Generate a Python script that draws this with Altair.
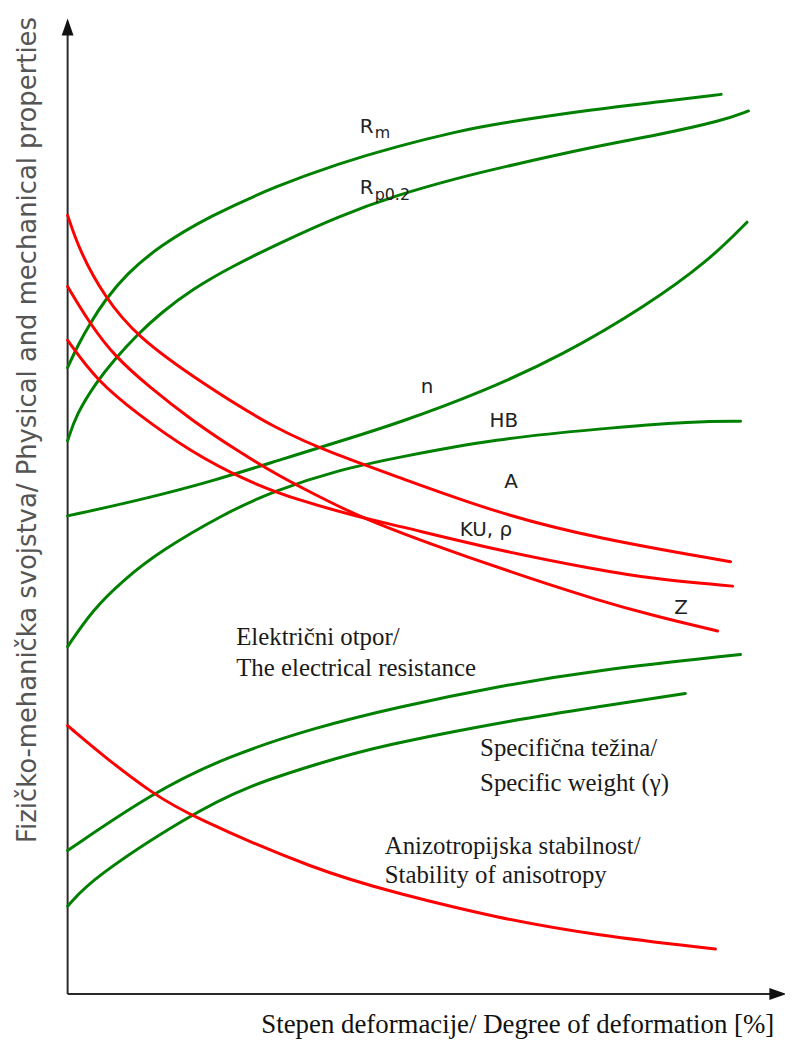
import altair as alt
import pandas as pd

# ---- curve data (x: degree of deformation, y: property level, arbitrary 0-100 units) ----
rm_x = [0, 1.5, 3.2, 5.1, 8.2, 12.7, 19.7, 29.4, 37.7, 46.0, 54.3, 59.8, 73.7, 82.0, 91.1]
rm_y = [64.2, 66.6, 68.8, 71.0, 73.8, 76.6, 79.7, 82.9, 85.1, 86.9, 88.4, 89.2, 90.7, 91.4, 92.2]

rp_x = [0, 1.2, 4.0, 6.5, 9.6, 13.0, 17.3, 23.0, 29.4, 37.7, 46.0, 54.3, 59.8, 73.7, 82.0, 91.3, 94.9]
rp_y = [56.7, 59.4, 62.7, 65.0, 67.5, 69.8, 72.2, 74.6, 76.9, 79.7, 81.9, 83.6, 84.6, 86.9, 88.0, 89.5, 90.5]

n_x = [0, 10.0, 20.4, 29.4, 39.1, 46.0, 57.5, 69.1, 80.6, 89.3, 94.7]
n_y = [49.0, 50.6, 52.6, 54.7, 56.9, 58.5, 61.6, 65.5, 70.5, 75.1, 79.1]

hb_x = [0, 3.5, 7.9, 12.7, 22.0, 28.9, 37.7, 46.0, 59.8, 73.7, 87.5, 93.8]
hb_y = [35.6, 39.4, 42.5, 45.3, 49.3, 51.6, 53.7, 55.0, 56.9, 57.9, 58.7, 58.7]

a_x = [0, 1.7, 5.1, 9.6, 18.3, 29.4, 37.7, 46.0, 59.8, 73.7, 92.4]
a_y = [79.8, 76.1, 71.5, 67.4, 62.8, 57.7, 55.2, 53.0, 49.3, 46.7, 44.3]

ku_x = [0, 4.0, 10.0, 16.9, 24.8, 32.1, 41.1, 46.0, 59.8, 73.7, 82.0, 92.7]
ku_y = [67.0, 62.9, 59.3, 55.7, 52.6, 50.6, 48.8, 48.0, 45.5, 43.5, 42.5, 41.8]

z_x = [0, 3.2, 6.5, 11.4, 17.3, 23.8, 29.4, 36.3, 41.1, 48.8, 55.7, 64.0, 73.7, 82.0, 90.6]
z_y = [72.5, 68.6, 65.4, 62.2, 58.8, 55.6, 53.1, 50.5, 48.8, 46.6, 44.8, 42.7, 40.4, 38.7, 37.2]

elec_x = [0, 11.8, 22.0, 34.9, 46.0, 59.8, 73.7, 93.8]
elec_y = [14.7, 20.6, 24.3, 27.4, 29.4, 31.5, 33.2, 34.8]

sw_x = [0, 3.5, 16.9, 25.0, 34.9, 43.2, 63.0, 73.7, 86.1]
sw_y = [9.0, 11.9, 18.3, 21.3, 23.6, 25.4, 28.2, 29.4, 30.8]

aniso_x = [0, 5.8, 11.8, 16.9, 34.9, 46.0, 59.8, 73.7, 90.3]
aniso_y = [27.5, 23.9, 20.6, 18.3, 12.6, 10.3, 7.8, 6.0, 4.6]

curve_names = ["Rm", "Rp0.2", "n", "HB", "A", "KU, ρ", "Z",
               "electrical", "specific weight", "anisotropy"]
curve_kinds = ["increase", "increase", "increase", "increase", "decrease", "decrease",
               "decrease", "increase", "increase", "decrease"]
curve_xs = [rm_x, rp_x, n_x, hb_x, a_x, ku_x, z_x, elec_x, sw_x, aniso_x]
curve_ys = [rm_y, rp_y, n_y, hb_y, a_y, ku_y, z_y, elec_y, sw_y, aniso_y]

# ---- text labels ----
sans_labels = ["R", "R", "n", "HB", "A", "KU, ρ", "Z"]
sans_x = [41.7, 41.7, 50.1, 60.8, 61.8, 58.3, 85.5]
sans_y = [88.9, 82.6, 62.2, 58.7, 52.5, 47.5, 39.6]

sub_labels = ["m", "p0.2"]
sub_x = [42.8, 42.8]
sub_y = [88.2, 81.9]

serif_labels = ["Električni otpor/", "The electrical resistance",
                "Specifična težina/", "Specific weight (γ)",
                "Anizotropijska stabilnost/", "Stability of anisotropy"]
serif_x = [23.5, 23.5, 57.5, 57.5, 44.2, 44.2]
serif_y = [35.8, 32.6, 24.4, 20.8, 14.3, 11.4]

x_title = "Stepen deformacije/ Degree of deformation [%]"
y_title = "Fizičko-mehanička svojstva/ Physical and mechanical properties"

# ---- build tables ----
rows = []
for name, kind, xs, ys in zip(curve_names, curve_kinds, curve_xs, curve_ys):
    for i, (xv, yv) in enumerate(zip(xs, ys)):
        rows.append({"curve": name, "kind": kind, "x": xv, "y": yv, "order": i})
df = pd.DataFrame(rows)

xs_ = alt.Scale(domain=[0, 100], nice=False, zero=False)
ys_ = alt.Scale(domain=[0, 100], nice=False, zero=False)
X = lambda f="x": alt.X(f"{f}:Q", scale=xs_, axis=None)
Y = lambda f="y": alt.Y(f"{f}:Q", scale=ys_, axis=None)

lines = alt.Chart(df).mark_line(strokeWidth=3, interpolate="basis", strokeCap="round").encode(
    x=X(), y=Y(), detail="curve:N", order="order:Q",
    color=alt.Color("kind:N", scale=alt.Scale(domain=["increase", "decrease"],
                                              range=["#008000", "#ff0000"]), legend=None),
)

axis_df = pd.DataFrame({"x": [0, 0], "y": [0, 0], "x2": [0, 99.0], "y2": [98.5, 0]})
axes = alt.Chart(axis_df).mark_rule(color="#2a2a2a", strokeWidth=2).encode(
    x=X(), y=Y(), x2="x2:Q", y2="y2:Q")

up_df = pd.DataFrame({"x": [0], "y": [99.1]})
arrow_up = alt.Chart(up_df).mark_point(shape="M0,-1L0.7,1L-0.7,1Z", filled=True, size=289,
                                       color="#111", opacity=1).encode(x=X(), y=Y())
right_df = pd.DataFrame({"x": [99.0], "y": [0]})
arrow_right = alt.Chart(right_df).mark_point(shape="M1,0L-1,-0.7L-1,0.7Z", filled=True, size=289,
                                             color="#111", opacity=1).encode(x=X(), y=Y())

sans_df = pd.DataFrame({"t": sans_labels, "x": sans_x, "y": sans_y})
sans = alt.Chart(sans_df).mark_text(font="DejaVu Sans", fontSize=20, color="#222",
                                    align="center", baseline="middle").encode(x=X(), y=Y(), text="t:N")

sub_df = pd.DataFrame({"t": sub_labels, "x": sub_x, "y": sub_y})
subs = alt.Chart(sub_df).mark_text(font="DejaVu Sans", fontSize=16, color="#222",
                                   align="left", baseline="middle").encode(x=X(), y=Y(), text="t:N")

serif_df = pd.DataFrame({"t": serif_labels, "x": serif_x, "y": serif_y})
serif = alt.Chart(serif_df).mark_text(font="Liberation Serif", fontSize=25, color="#1a1a1a",
                                      align="left", baseline="alphabetic").encode(x=X(), y=Y(), text="t:N")

xt_df = pd.DataFrame({"t": [x_title], "x": [27.0], "y": [-4.0]})
xt = alt.Chart(xt_df).mark_text(font="Liberation Serif", fontSize=27, color="#111",
                                align="left", baseline="alphabetic").encode(x=X(), y=Y(), text="t:N")

yt_df = pd.DataFrame({"t": [y_title], "x": [-5.5], "y": [57.8]})
yt = alt.Chart(yt_df).mark_text(font="DejaVu Sans", fontSize=26, color="#555", angle=270,
                                align="center", baseline="middle").encode(x=X(), y=Y(), text="t:N")

chart = alt.layer(axes, arrow_up, arrow_right, lines, sans, subs, serif, xt, yt).properties(
    width=722, height=982, autosize="none",
    padding={"left": 60, "top": 7, "right": 0, "bottom": 45},
).configure_view(stroke=None)

chart.save("out.html", embed_options={"renderer": "svg", "actions": False})
